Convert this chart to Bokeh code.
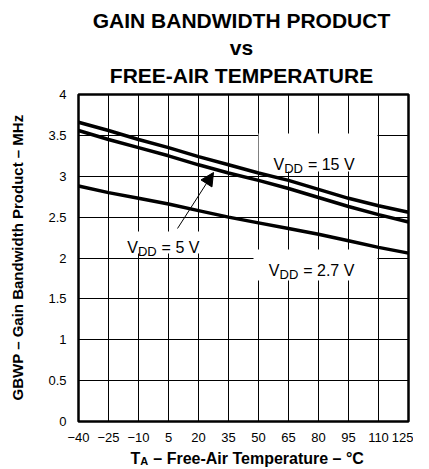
import math
from bokeh.plotting import figure
from bokeh.models import Range1d, Label, Arrow, NormalHead
from bokeh.embed import file_html
from bokeh.resources import INLINE

# ---- data ----
temps = [-40, -25, -10, 5, 20, 35, 50, 65, 80, 95, 110, 125]
gbwp_15v = [3.66, 3.56, 3.45, 3.35, 3.24, 3.14, 3.04, 2.95, 2.84, 2.73, 2.64, 2.56]
gbwp_5v = [3.56, 3.45, 3.35, 3.25, 3.14, 3.04, 2.95, 2.85, 2.74, 2.63, 2.53, 2.44]
gbwp_2v7 = [2.88, 2.80, 2.73, 2.66, 2.58, 2.50, 2.43, 2.36, 2.29, 2.21, 2.13, 2.06]

x_ticks = [-40, -25, -10, 5, 20, 35, 50, 65, 80, 95, 110, 125]
x_tick_labels = ["\u221240", "\u221225", "\u221210", "5", "20", "35", "50", "65", "80", "95", "110", "125"]
y_ticks = [0, 0.5, 1, 1.5, 2, 2.5, 3, 3.5, 4]
y_tick_labels = ["0", "0.5", "1", "1.5", "2", "2.5", "3", "3.5", "4"]

title_lines = ["GAIN BANDWIDTH PRODUCT", "vs", "FREE-AIR TEMPERATURE"]
y_label = "GBWP \u2013 Gain Bandwidth Product \u2013 MHz"

FONT = "Liberation Sans"

p = figure(width=413, height=469, x_range=Range1d(-40, 125), y_range=Range1d(0, 4),
           output_backend="svg", toolbar_location=None,
           min_border_left=78, min_border_right=5, min_border_top=94, min_border_bottom=48)
p.title.visible = False
p.background_fill_color = "white"
p.border_fill_color = "white"
p.outline_line_color = "black"
p.outline_line_width = 2.5

p.xaxis.ticker = x_ticks
p.yaxis.ticker = y_ticks
p.xaxis.major_label_overrides = {t: s for t, s in zip(x_ticks, x_tick_labels)}
p.yaxis.major_label_overrides = {t: s for t, s in zip(y_ticks, y_tick_labels)}
for ax in (p.xaxis, p.yaxis):
    ax.axis_line_color = None
    ax.major_tick_line_color = None
    ax.minor_tick_line_color = None
    ax.major_label_text_font = FONT
    ax.major_label_text_font_size = "13px"
    ax.major_label_text_color = "black"
p.xaxis.major_label_standoff = 5
p.yaxis.major_label_standoff = 6
p.grid.grid_line_color = "black"
p.grid.grid_line_width = 1
p.grid.grid_line_alpha = 1.0

# white boxes behind the curve labels
p.quad(left=[50, -19, 47.5], right=[109.5, 23.5, 109.5],
       top=[3.523, 2.324, 2.104], bottom=[3.058, 2.055, 1.725],
       fill_color="white", line_color=None)

for ys in (gbwp_15v, gbwp_5v, gbwp_2v7):
    p.line(temps, ys, line_color="black", line_width=3.5)


def lab(x, y, text, size, bold=True, place="center", **kw):
    opts = dict(text_align="left", text_baseline="alphabetic")
    opts.update(kw)
    p.add_layout(Label(x=x, y=y, text=text, text_font=FONT,
                       text_font_style="bold" if bold else "normal",
                       text_font_size=size, text_color="black", **opts), place)


# title (side panels are not clipped by the frame)
for txt, yy in zip(title_lines, [4.905, 4.575, 4.232]):
    lab(41.5, yy, txt, "21px", place="above", text_align="center", text_baseline="middle")

# y axis label
lab(-70.5, 2.006, y_label, "15px", place="left", angle=math.pi / 2,
    text_align="center", text_baseline="middle")

# x axis label with subscript
xl_base = -0.453
lab(-14.0, xl_base, "T", "16px", place="left")
lab(-9.1, xl_base - 0.036, "A", "11px", place="left")
lab(-2.6, xl_base, "\u2013 Free-Air Temperature \u2013 \u00b0C", "16px", place="above")


# curve labels V_DD
def vdd(xv, yb, rest):
    lab(xv, yb, "V", "16px", bold=False)
    lab(xv + 5.35, yb - 0.05, "DD", "13px", bold=False)
    lab(xv + 17.2, yb, rest, "16px", bold=False)


vdd(57.5, 3.144, "= 15 V")
vdd(-15.65, 2.128, "= 5 V")
vdd(55.15, 1.847, "= 2.7 V")

p.add_layout(Arrow(end=NormalHead(size=13, fill_color="black", line_color="black"),
                   x_start=9.5, y_start=2.361, x_end=27.5, y_end=3.046,
                   line_width=1, line_color="black"))

open("out.html", "w").write(file_html(p, INLINE))
